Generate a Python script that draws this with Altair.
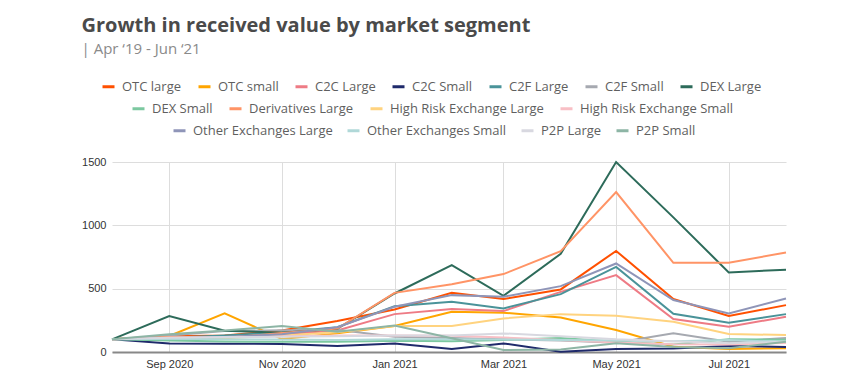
import altair as alt
import pandas as pd

months = ["2020-08-01", "2020-09-01", "2020-10-01", "2020-11-01", "2020-12-01",
          "2021-01-01", "2021-02-01", "2021-03-01", "2021-04-01", "2021-05-01",
          "2021-06-01", "2021-07-01", "2021-08-01"]

otc_large = [100, 125, 130, 170, 245, 335, 467, 418, 494, 798, 418, 284, 370]
otc_small = [100, 126, 305, 102, 147, 205, 318, 310, 273, 173, 42, 24, 29]
c2c_large = [100, 110, 115, 140, 170, 299, 339, 323, 475, 607, 260, 200, 278]
c2c_small = [100, 68, 66, 63, 47, 68, 24, 68, 2, 24, 28, 47, 40]
c2f_large = [100, 112, 130, 155, 195, 362, 396, 344, 457, 672, 302, 231, 299]
c2f_small = [100, 130, 165, 172, 175, 120, 110, 100, 90, 73, 147, 81, 110]
dex_large = [100, 283, 168, 152, 183, 462, 686, 444, 775, 1500, 1063, 628, 650]
dex_small = [100, 90, 82, 80, 80, 88, 85, 95, 110, 80, 60, 100, 97]
deriv_large = [100, 118, 110, 150, 185, 467, 535, 615, 796, 1263, 704, 704, 786]
hre_large = [100, 110, 110, 130, 155, 205, 205, 265, 299, 286, 239, 142, 134]
hre_small = [100, 112, 118, 125, 130, 130, 128, 115, 95, 75, 62, 60, 72]
oe_large = [100, 108, 118, 140, 195, 357, 449, 436, 520, 699, 410, 305, 423]
oe_small = [100, 105, 100, 98, 95, 100, 100, 98, 95, 90, 85, 95, 80]
p2p_large = [100, 112, 118, 120, 125, 130, 130, 147, 125, 100, 85, 70, 80]
p2p_small = [100, 140, 170, 205, 160, 210, 108, 16, 20, 70, 40, 30, 80]

series_names = ["OTC large", "OTC small", "C2C Large", "C2C Small", "C2F Large",
                "C2F Small", "DEX Large", "DEX Small", "Derivatives Large",
                "High Risk Exchange Large", "High Risk Exchange Small",
                "Other Exchanges Large", "Other Exchanges Small", "P2P Large", "P2P Small"]
series_values = [otc_large, otc_small, c2c_large, c2c_small, c2f_large, c2f_small,
                 dex_large, dex_small, deriv_large, hre_large, hre_small,
                 oe_large, oe_small, p2p_large, p2p_small]
series_colors = ["#FF5000", "#FFA500", "#EE7B85", "#1F2A6B", "#4A9399", "#A6A9B0",
                 "#2D6B5A", "#7CC8A0", "#FF9466", "#FFD37F", "#F8BFC5",
                 "#8F95B8", "#B0D8D8", "#D8D8E0", "#8DB5A5"]

rows = []
for i, (name, vals) in enumerate(zip(series_names, series_values)):
    for m, v in zip(months, vals):
        rows.append({"date": m + "T00:00:00", "segment": name, "value": v, "order": i})
df = pd.DataFrame(rows)

groups = [(0, 7), (7, 11), (11, 15)]
legend_pos = [(-11, -83, 10), (19, -61, 10), (60, -39, 8)]

x_ticks = [alt.DateTime(year=2020, month=9, date=1), alt.DateTime(year=2020, month=11, date=1),
           alt.DateTime(year=2021, month=1, date=1), alt.DateTime(year=2021, month=3, date=1),
           alt.DateTime(year=2021, month=5, date=1), alt.DateTime(year=2021, month=7, date=1)]

layers = []
for (a, b), (lx, ly, cp) in zip(groups, legend_pos):
    names = series_names[a:b]
    cols = series_colors[a:b]
    layer = alt.Chart(df).transform_filter(
        alt.FieldOneOfPredicate(field="segment", oneOf=names)
    ).mark_line(strokeWidth=2).encode(
        x=alt.X("date:T",
                scale=alt.Scale(domain=[alt.DateTime(year=2020, month=8, date=1),
                                        alt.DateTime(year=2021, month=8, date=1)], nice=False),
                axis=alt.Axis(title=None, values=x_ticks, format="%b %Y", grid=True,
                              gridColor="#dddddd", ticks=False, domainColor="#888888",
                              domainWidth=2, labelFont="Liberation Sans", labelFontSize=11,
                              labelColor="#333333", labelPadding=6)),
        y=alt.Y("value:Q", scale=alt.Scale(domain=[0, 1500], nice=False),
                axis=alt.Axis(title=None, values=[0, 500, 1000, 1500], format="d", grid=True,
                              gridColor="#dddddd", ticks=False, domain=False,
                              labelFont="Liberation Sans", labelFontSize=11,
                              labelColor="#333333", labelPadding=6)),
        color=alt.Color("segment:N",
                        scale=alt.Scale(domain=names, range=cols),
                        legend=alt.Legend(orient="none", legendX=lx, legendY=ly,
                                          direction="horizontal", columns=len(names),
                                          title=None, symbolType="stroke",
                                          symbolStrokeWidth=3, symbolSize=144,
                                          labelFont="Open Sans", labelFontSize=13,
                                          labelColor="#5f5f5f", columnPadding=cp,
                                          labelOffset=6, padding=0)),
        order=alt.Order("order:Q"),
    )
    layers.append(layer)

chart = alt.layer(*layers).resolve_scale(color="independent").properties(
    width=674,
    height=190,
    autosize=alt.AutoSizeParams(type="none"),
    padding={"left": 104, "top": 154, "right": 53, "bottom": 20},
    title=alt.TitleParams(
        text="Growth in received value by market segment",
        subtitle="| Apr \u201819 - Jun \u201821",
        anchor="start",
        font="Open Sans", fontSize=20, fontWeight="bold", color="#4a4a4a",
        subtitleFont="Open Sans", subtitleFontSize=15, subtitleColor="#8a8a8a",
        subtitlePadding=6, offset=22,
    ),
).configure_view(stroke=None)

chart.save("out.html", embed_options={"renderer": "svg", "actions": False})
